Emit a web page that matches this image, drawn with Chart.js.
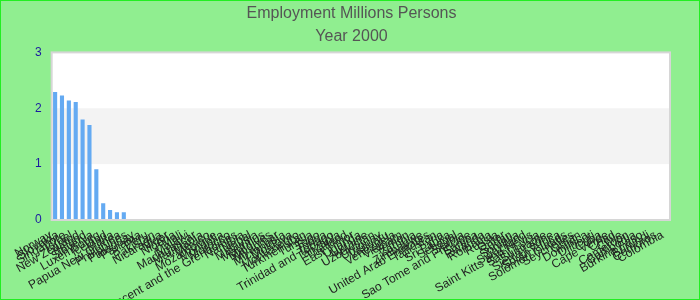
<!DOCTYPE html>
<html>
<head>
<meta charset="utf-8">
<script src="https://cdn.jsdelivr.net/npm/chart.js@4.4.0/dist/chart.umd.min.js"></script>
<style>
  html, body { margin: 0; padding: 0; background: #90ee90; }
  #wrap { width: 700px; height: 300px; position: relative; }
</style>
</head>
<body>
<div id="wrap"><canvas id="c" width="700" height="300"></canvas></div>
<script>
const titleLines = ['Employment Millions Persons', 'Year 2000'];
const categories = [
  'Norway','Slovakia','Singapore','Israel','New Zealand','Ireland','Slovenia','Luxembourg','Iceland','Malta',
  'Papua New Guinea','Philippines','Paraguay','Panama','Peru','Pakistan','Nicaragua','Niger','Nigeria','Mali',
  'Malawi','Madagascar','Mauritania','Mexico','Mozambique','Mongolia','Morocco','Saint Vincent and the Grenadines','Namibia','Nepal',
  'Malaysia','Mauritius','Maldives','Myanmar','Micronesia','Moldova','Montenegro','Turkmenistan','Tunisia','Togo',
  'Tonga','Trinidad and Tobago','Tanzania','Thailand','East Timor','Uganda','Ukraine','Uzbekistan','Uruguay','Vanuatu',
  'Venezuela','Vietnam','Yemen','Zambia','Zimbabwe','United Arab Emirates','Tajikistan','Syria','Sri Lanka','Senegal',
  'Serbia','Sao Tome and Principe','Samoa','Rwanda','Romania','Russia','Qatar','Sudan','Somalia','Swaziland',
  'Saint Kitts and Nevis','Saint Lucia','Suriname','Sierra Leone','South Africa','Solomon Islands','Seychelles','Oman','Dominica','Djibouti',
  'Cuba','Cape Verde','Chad','Chile','Cameroon','Cambodia','Burkina Faso','Burundi','Comoros','Colombia'
];
const employment = [
  2.29, 2.23, 2.14, 2.11, 1.80, 1.70, 0.91, 0.30, 0.18, 0.14,
  0.14, null, null, null, null, null, null, null, null, null,
  null, null, null, null, null, null, null, null, null, null,
  null, null, null, null, null, null, null, null, null, null,
  null, null, null, null, null, null, null, null, null, null,
  null, null, null, null, null, null, null, null, null, null,
  null, null, null, null, null, null, null, null, null, null,
  null, null, null, null, null, null, null, null, null, null,
  null, null, null, null, null, null, null, null, null, null
];
const yTicks = [0, 1, 2, 3];

const bgPlugin = {
  id: 'bg',
  beforeDraw(chart) {
    const ctx = chart.ctx, a = chart.chartArea, y = chart.scales.y;
    ctx.save();
    ctx.fillStyle = '#90ee90';
    ctx.fillRect(0, 0, chart.width, chart.height);
    ctx.fillStyle = '#ffffff';
    ctx.fillRect(a.left, a.top, a.right - a.left, a.bottom - a.top);
    ctx.fillStyle = '#f3f3f3';
    const y1 = y.getPixelForValue(yTicks[1]), y2 = y.getPixelForValue(yTicks[2]);
    ctx.fillRect(a.left, y2, a.right - a.left, y1 - y2);
    ctx.restore();
  },
  afterDraw(chart) {
    const ctx = chart.ctx, a = chart.chartArea;
    ctx.save();
    ctx.strokeStyle = '#d6d6d6';
    ctx.lineWidth = 2;
    ctx.strokeRect(a.left, a.top, a.right - a.left, a.bottom - a.top);
    ctx.strokeStyle = '#22ee22';
    ctx.lineWidth = 2;
    ctx.strokeRect(0, 0, chart.width, chart.height);
    ctx.restore();
  }
};

new Chart(document.getElementById('c'), {
  type: 'bar',
  data: {
    labels: categories,
    datasets: [{
      label: 'Employment',
      data: employment,
      backgroundColor: '#64aaf2',
      borderWidth: 0,
      barPercentage: 0.75,
      categoryPercentage: 0.8
    }]
  },
  options: {
    responsive: false,
    animation: false,
    layout: { padding: { left: 33, right: 30, top: 0, bottom: 0 } },
    plugins: {
      legend: { display: false },
      tooltip: { enabled: false },
      title: {
        display: true,
        text: titleLines,
        color: '#555555',
        font: { family: 'Liberation Sans, Arial, sans-serif', size: 16, weight: 'normal', lineHeight: 1.45 },
        padding: { top: 2, bottom: 4 }
      }
    },
    scales: {
      x: {
        grid: { display: false },
        border: { display: false },
        ticks: {
          autoSkip: false,
          minRotation: 30,
          maxRotation: 30,
          labelOffset: -4,
          color: '#222222',
          padding: 0,
          font: { family: 'Liberation Sans, Arial, sans-serif', size: 12 }
        },
        afterFit(scale) { scale.height = 80; }
      },
      y: {
        min: 0,
        max: 3,
        grid: { display: false },
        border: { display: false },
        afterBuildTicks(scale) { scale.ticks = yTicks.map(v => ({ value: v })); },
        ticks: {
          color: '#1a1aa0',
          padding: 2,
          font: { family: 'Liberation Sans, Arial, sans-serif', size: 12 }
        }
      }
    }
  },
  plugins: [bgPlugin]
});
</script>
</body>
</html>
